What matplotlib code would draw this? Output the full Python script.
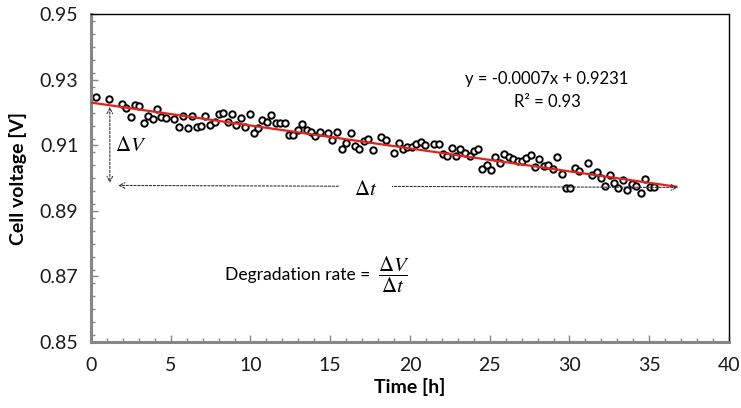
import matplotlib
matplotlib.use("Agg")
import matplotlib.pyplot as plt
from matplotlib.ticker import MultipleLocator, FormatStrFormatter

plt.rcParams['font.family'] = ['Lato', 'DejaVu Sans']
plt.rcParams['mathtext.fontset'] = 'stix'

# ---- data ----
time_h = [0.29, 1.12, 1.94, 2.21, 2.52, 2.77, 3.04, 3.31, 3.60, 3.87, 4.13, 4.42, 4.69,
          5.21, 5.52, 5.79, 6.08, 6.34, 6.62, 6.90, 7.17, 7.44, 7.75, 8.00, 8.29, 8.56,
          8.83, 9.12, 9.38, 9.66, 9.94, 10.21, 10.48, 10.75, 11.04, 11.31, 11.58, 11.86,
          12.14, 12.40, 12.69, 12.96, 13.25, 13.52, 13.79, 14.06, 14.34, 14.86, 15.13,
          15.44, 15.71, 16.00, 16.27, 16.54, 16.83, 17.10, 17.36, 17.66, 18.19, 18.48,
          19.02, 19.31, 19.58, 19.84, 20.14, 20.40, 20.67, 20.96, 21.50, 21.79, 22.06,
          22.33, 22.62, 22.88, 23.15, 23.46, 23.75, 24.02, 24.29, 24.54, 24.81, 25.10,
          25.36, 25.63, 25.92, 26.19, 26.46, 26.75, 27.02, 27.29, 27.58, 27.84, 28.11,
          28.40, 28.67, 28.94, 29.23, 29.50, 29.77, 30.06, 30.33, 30.59, 31.15, 31.42,
          31.71, 31.98, 32.25, 32.54, 32.81, 33.07, 33.36, 33.63, 33.90, 34.19, 34.46,
          34.73, 35.02, 35.29]
voltage = [0.9248, 0.9241, 0.9226, 0.9213, 0.9187, 0.9223, 0.9220, 0.9170, 0.9190, 0.9180,
           0.9210, 0.9188, 0.9183, 0.9180, 0.9156, 0.9190, 0.9152, 0.9190, 0.9155, 0.9158,
           0.9190, 0.9162, 0.9172, 0.9195, 0.9200, 0.9173, 0.9197, 0.9162, 0.9185, 0.9155,
           0.9197, 0.9139, 0.9152, 0.9177, 0.9172, 0.9192, 0.9168, 0.9168, 0.9168, 0.9132,
           0.9132, 0.9147, 0.9165, 0.9146, 0.9142, 0.9129, 0.9141, 0.9139, 0.9116, 0.9140,
           0.9088, 0.9107, 0.9139, 0.9099, 0.9088, 0.9114, 0.9121, 0.9085, 0.9126, 0.9116,
           0.9078, 0.9109, 0.9088, 0.9096, 0.9094, 0.9106, 0.9111, 0.9101, 0.9104, 0.9104,
           0.9075, 0.9068, 0.9091, 0.9068, 0.9090, 0.9078, 0.9068, 0.9083, 0.9088, 0.9027,
           0.9041, 0.9025, 0.9066, 0.9045, 0.9075, 0.9065, 0.9060, 0.9053, 0.9053, 0.9063,
           0.9070, 0.9033, 0.9060, 0.9036, 0.9041, 0.9027, 0.9065, 0.9012, 0.8970, 0.8970,
           0.9030, 0.9022, 0.9048, 0.9010, 0.9020, 0.9002, 0.8975, 0.9009, 0.8985, 0.8970,
           0.8995, 0.8963, 0.8982, 0.8977, 0.8955, 0.8999, 0.8972, 0.8972]

slope = -0.0007
intercept = 0.9231
r_squared = 0.93
trend_range = [0.0, 36.7]

x_ticks = [0, 5, 10, 15, 20, 25, 30, 35, 40]
y_ticks = [0.85, 0.87, 0.89, 0.91, 0.93, 0.95]

# ---- figure ----
fig = plt.figure(figsize=(7.41, 4.08), dpi=100)
ax = fig.add_axes([0.1228, 0.1618, 0.861, 0.8027])

trend_y = [slope * x + intercept for x in trend_range]
ax.plot(trend_range, trend_y, color='#e3231b', lw=1.6, zorder=3)
ax.plot(time_h, voltage, linestyle='none', marker='o', markersize=4.6,
        markerfacecolor='white', markeredgecolor='black', markeredgewidth=1.4, zorder=2)

ax.set_xlim(0, 40)
ax.set_ylim(0.85, 0.95)
ax.set_xticks(x_ticks)
ax.set_yticks(y_ticks)
ax.xaxis.set_minor_locator(MultipleLocator(1))
ax.yaxis.set_minor_locator(MultipleLocator(0.004))
ax.yaxis.set_major_formatter(FormatStrFormatter('%.2f'))
ax.tick_params(which='both', direction='in', colors='#868686', labelcolor='#1a1a1a',
               labelsize=14)
ax.tick_params(which='major', length=5, width=1)
ax.tick_params(which='minor', length=3, width=1)
ax.tick_params(axis='x', pad=11)
ax.tick_params(axis='y', pad=9)

for side in ['left', 'bottom']:
    ax.spines[side].set_color('#868686')
    ax.spines[side].set_linewidth(2.2)
for side in ['top', 'right']:
    ax.spines[side].set_color('black')
    ax.spines[side].set_linewidth(1.0)

ax.set_xlabel('Time [h]', fontsize=14, fontweight='bold', labelpad=3)
ax.set_ylabel('Cell voltage [V]', fontsize=14, fontweight='bold', labelpad=9)

# equation
ax.text(28.6, 0.9304, 'y = -0.0007x + 0.9231', fontsize=12, ha='center', va='center')
ax.text(28.6, 0.9233, 'R² = 0.93', fontsize=12, ha='center', va='center')

# Delta V arrow
ax.annotate('', xy=(1.18, 0.8985), xytext=(1.18, 0.9218),
            arrowprops=dict(arrowstyle='<->', linestyle=(0, (2, 1.5)), lw=0.8,
                            color='#333333', shrinkA=0, shrinkB=0))
ax.text(1.5, 0.9103, r'$\Delta V$', fontsize=15, ha='left', va='center')

# Delta t arrow
ax.annotate('', xy=(1.7, 0.8978), xytext=(36.8, 0.8972),
            arrowprops=dict(arrowstyle='<->', linestyle=(0, (2, 1.5)), lw=0.8,
                            color='#333333', shrinkA=0, shrinkB=0))
ax.text(17.2, 0.8968, r'$\Delta t$', fontsize=15, ha='center', va='center',
        bbox=dict(boxstyle='square,pad=0.7', fc='white', ec='none'))

# degradation rate
ax.text(17.5, 0.8705, 'Degradation rate =', fontsize=12.6, ha='right', va='center')
ax.text(18.0, 0.8705, r'$\dfrac{\Delta V}{\Delta t}$', fontsize=15, ha='left', va='center')

fig.savefig('out.png', dpi=100)
